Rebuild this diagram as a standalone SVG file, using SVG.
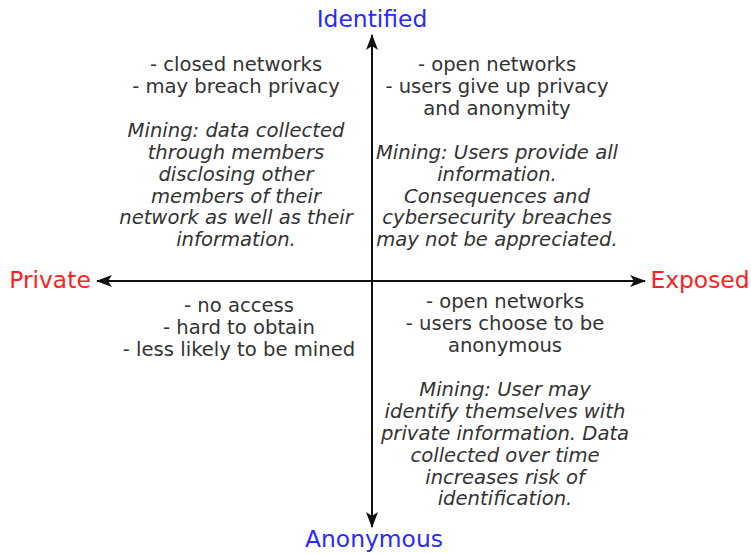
<svg xmlns="http://www.w3.org/2000/svg" width="751" height="553" viewBox="0 0 751 553">
<style>
.t{font-family:"DejaVu Sans","Verdana",sans-serif;font-size:19.6px;fill:#333;text-anchor:middle}
.i{font-style:italic}
.ax{font-family:"DejaVu Sans","Verdana",sans-serif;font-size:23.4px;text-anchor:middle}
.b{fill:#2a2aff}
.r{fill:#ff2020}
.ln{stroke:#111;stroke-width:2;fill:none}
</style>
<defs>
<marker id="ah" viewBox="0 0 16 12" refX="15" refY="6" markerWidth="16" markerHeight="12" markerUnits="userSpaceOnUse" orient="auto-start-reverse">
<path d="M0,0 L16,6 L0,12 L4,6 Z" fill="#111"/>
</marker>
</defs>
<g id="connectors">
<line class="ln" x1="372" y1="527" x2="372" y2="35" marker-end="url(#ah)" marker-start="url(#ah)"/>
<line class="ln" x1="97" y1="281" x2="645" y2="281" marker-end="url(#ah)" marker-start="url(#ah)"/>
</g>
<g id="identified"><text class="ax b" x="372" y="27">Identified</text></g>
<g id="anonymous"><text class="ax b" x="374" y="547">Anonymous</text></g>
<g id="private"><text class="ax r" x="50" y="288">Private</text></g>
<g id="exposed"><text class="ax r" x="700" y="288">Exposed</text></g>
<g id="q-top-left">
<text class="t" x="236" y="71">- closed networks</text>
<text class="t" x="236" y="93">- may breach privacy</text>
<text class="t i" x="236" y="137">Mining: data collected</text>
<text class="t i" x="236" y="159">through members</text>
<text class="t i" x="236" y="181">disclosing other</text>
<text class="t i" x="236" y="203">members of their</text>
<text class="t i" x="236" y="224">network as well as their</text>
<text class="t i" x="236" y="246">information.</text>
</g>
<g id="q-top-right">
<text class="t" x="497" y="71">- open networks</text>
<text class="t" x="497" y="93">- users give up privacy</text>
<text class="t" x="497" y="115">and anonymity</text>
<text class="t i" x="497" y="159">Mining: Users provide all</text>
<text class="t i" x="497" y="181">information.</text>
<text class="t i" x="497" y="203">Consequences and</text>
<text class="t i" x="497" y="224">cybersecurity breaches</text>
<text class="t i" x="497" y="246">may not be appreciated.</text>
</g>
<g id="q-bottom-left">
<text class="t" x="239" y="312">- no access</text>
<text class="t" x="239" y="334">- hard to obtain</text>
<text class="t" x="239" y="356">- less likely to be mined</text>
</g>
<g id="q-bottom-right">
<text class="t" x="505" y="308">- open networks</text>
<text class="t" x="505" y="330">- users choose to be</text>
<text class="t" x="505" y="352">anonymous</text>
<text class="t i" x="505" y="396">Mining: User may</text>
<text class="t i" x="505" y="418">identify themselves with</text>
<text class="t i" x="505" y="440">private information. Data</text>
<text class="t i" x="505" y="462">collected over time</text>
<text class="t i" x="505" y="484">increases risk of</text>
<text class="t i" x="505" y="505">identification.</text>
</g>
</svg>
